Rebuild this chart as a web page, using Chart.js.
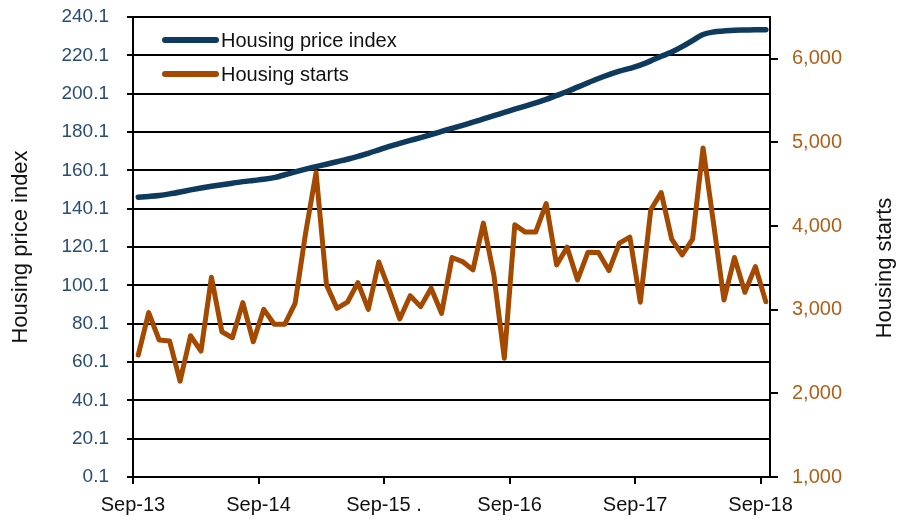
<!DOCTYPE html>
<html>
<head>
<meta charset="utf-8">
<script src="https://cdn.jsdelivr.net/npm/chart.js@4.4.1/dist/chart.umd.min.js"></script>
<style>
html,body{margin:0;padding:0;background:#fff;}
#wrap{width:899px;height:522px;position:relative;}
</style>
</head>
<body>
<div id="wrap"><canvas id="c"></canvas></div>
<script>
// ---- data (monthly, Sep-13 .. Sep-18) ----
const monthNames = ['Jan','Feb','Mar','Apr','May','Jun','Jul','Aug','Sep','Oct','Nov','Dec'];
const months = [];
for (let i = 0; i < 61; i++) { const m = (8 + i) % 12, y = 13 + Math.floor((8 + i) / 12); months.push(monthNames[m] + '-' + y); }

const priceIndex = [146.1,146.5,147.0,147.8,148.8,149.9,150.9,151.8,152.6,153.4,154.2,154.8,155.4,156.3,157.8,159.3,160.7,162.0,163.3,164.6,165.9,167.4,169.0,170.8,172.6,174.2,175.7,177.2,178.8,180.4,182.0,183.6,185.2,186.9,188.6,190.3,192.0,193.6,195.3,197.1,199.2,201.2,203.5,205.8,208.0,210.0,211.8,213.3,215.0,217.2,219.6,221.8,224.6,227.8,231.0,232.3,232.8,233.2,233.3,233.4,233.4];

const housingStarts = [2458,2965,2638,2626,2146,2689,2506,3389,2737,2665,3085,2617,3005,2826,2826,3077,3916,4640,3297,3017,3090,3324,3005,3570,3237,2889,3168,3037,3257,2957,3624,3576,3476,4035,3416,2420,4015,3928,3928,4270,3536,3748,3356,3688,3684,3468,3796,3868,3090,4195,4400,3844,3656,3844,4935,4036,3117,3624,3209,3516,3097];

const xTickMonths = ['Sep-13','Sep-14','Sep-15','Sep-16','Sep-17','Sep-18'];
const xTickLabels = ['Sep-13','Sep-14','Sep-15 .','Sep-16','Sep-17','Sep-18'];
const leftTicks = [0.1,20.1,40.1,60.1,80.1,100.1,120.1,140.1,160.1,180.1,200.1,220.1,240.1];
const rightTicks = [1000,2000,3000,4000,5000,6000];

const seriesNames = ['Housing price index','Housing starts'];
const axisTitles = ['Housing price index','Housing starts'];

// ---- styling ----
const FONT = "'Liberation Sans', Arial, sans-serif";
const BLUE = '#0e3a5e';
const ORANGE = '#a34a00';

// tick positions sit half a month before each labelled month's point
const xTickValues = xTickMonths.map(m => months.indexOf(m) - 0.5);

const titlesAndLegend = {
  id: 'titlesAndLegend',
  afterDraw(chart) {
    const ctx = chart.ctx;
    const ca = chart.chartArea;
    ctx.save();
    ctx.fillStyle = '#111';
    ctx.textAlign = 'center';
    ctx.textBaseline = 'middle';
    ctx.font = '22px ' + FONT;
    // left title
    ctx.save();
    ctx.translate(21, (ca.top + ca.bottom) / 2);
    ctx.rotate(-Math.PI / 2);
    ctx.fillText(axisTitles[0], 0, 0);
    ctx.restore();
    // right title
    ctx.save();
    ctx.translate(885, (ca.top + ca.bottom) / 2 + 21);
    ctx.rotate(-Math.PI / 2);
    ctx.fillText(axisTitles[1], 0, 0);
    ctx.restore();
    // legend
    ctx.font = '20px ' + FONT;
    const lx = ca.left + 32, ly = ca.top + 23, gap = 34;
    chart.data.datasets.forEach((ds, i) => {
      const y = ly + i * gap;
      ctx.beginPath();
      ctx.strokeStyle = ds.borderColor;
      ctx.lineWidth = 6;
      ctx.lineCap = 'round';
      ctx.moveTo(lx, y);
      ctx.lineTo(lx + 51, y);
      ctx.stroke();
      ctx.textAlign = 'left';
      ctx.fillStyle = '#111';
      ctx.fillText(ds.label, lx + 56, y + 1);
    });
    ctx.restore();
  }
};

new Chart(document.getElementById('c'), {
  type: 'line',
  data: {
    datasets: [
      {
        label: seriesNames[0],
        data: priceIndex.map((v, i) => ({x: i, y: v})),
        yAxisID: 'y',
        borderColor: BLUE,
        borderWidth: 5.5,
        pointRadius: 0,
        tension: 0.3,
        cubicInterpolationMode: 'monotone',
        borderCapStyle: 'round',
        order: 1
      },
      {
        label: seriesNames[1],
        data: housingStarts.map((v, i) => ({x: i, y: v})),
        yAxisID: 'y1',
        borderColor: ORANGE,
        borderWidth: 5,
        pointRadius: 0,
        tension: 0,
        borderJoinStyle: 'round',
        borderCapStyle: 'round',
        order: 0
      }
    ]
  },
  options: {
    responsive: true,
    maintainAspectRatio: false,
    animation: false,
    layout: {padding: {top: 17, left: 0, right: 0, bottom: 0}},
    plugins: {legend: {display: false}, tooltip: {enabled: false}},
    scales: {
      x: {
        type: 'linear',
        position: 'bottom',
        min: -0.5,
        max: 60.4,
        afterBuildTicks: (axis) => { axis.ticks = xTickValues.map(v => ({value: v})); },
        afterFit: (s) => { s.height = 45; s.paddingLeft = 0; s.paddingRight = 0; },
        ticks: {
          autoSkip: false, maxRotation: 0, minRotation: 0,
          color: '#111', padding: 9,
          font: {family: FONT, size: 20},
          callback: (v, i) => xTickLabels[i]
        },
        grid: {drawOnChartArea: false, drawTicks: true, tickLength: 7, color: '#000', lineWidth: 2},
        border: {display: true, color: '#000', width: 2}
      },
      y: {
        type: 'linear',
        position: 'left',
        min: 0.1,
        max: 240.1,
        afterBuildTicks: (axis) => { axis.ticks = leftTicks.map(v => ({value: v})); },
        afterFit: (s) => { s.width = 133; s.paddingTop = 0; s.paddingBottom = 0; },
        ticks: {
          color: '#2a4d74', padding: 18,
          font: {family: FONT, size: 19},
          callback: (v) => Number(v).toFixed(1)
        },
        grid: {drawOnChartArea: true, drawTicks: true, tickLength: 6, color: '#000', lineWidth: 2},
        border: {display: true, color: '#000', width: 2}
      },
      y1: {
        type: 'linear',
        position: 'right',
        min: 1000,
        max: 6500,
        afterBuildTicks: (axis) => { axis.ticks = rightTicks.map(v => ({value: v})); },
        afterFit: (s) => { s.width = 129; s.paddingTop = 0; s.paddingBottom = 0; },
        ticks: {
          color: '#b0601a', padding: 14,
          font: {family: FONT, size: 20},
          callback: (v) => Number(v).toLocaleString('en-US')
        },
        grid: {drawOnChartArea: false, drawTicks: true, tickLength: 8, color: '#000', lineWidth: 2},
        border: {display: true, color: '#000', width: 2}
      }
    }
  },
  plugins: [titlesAndLegend]
});
</script>
</body>
</html>
